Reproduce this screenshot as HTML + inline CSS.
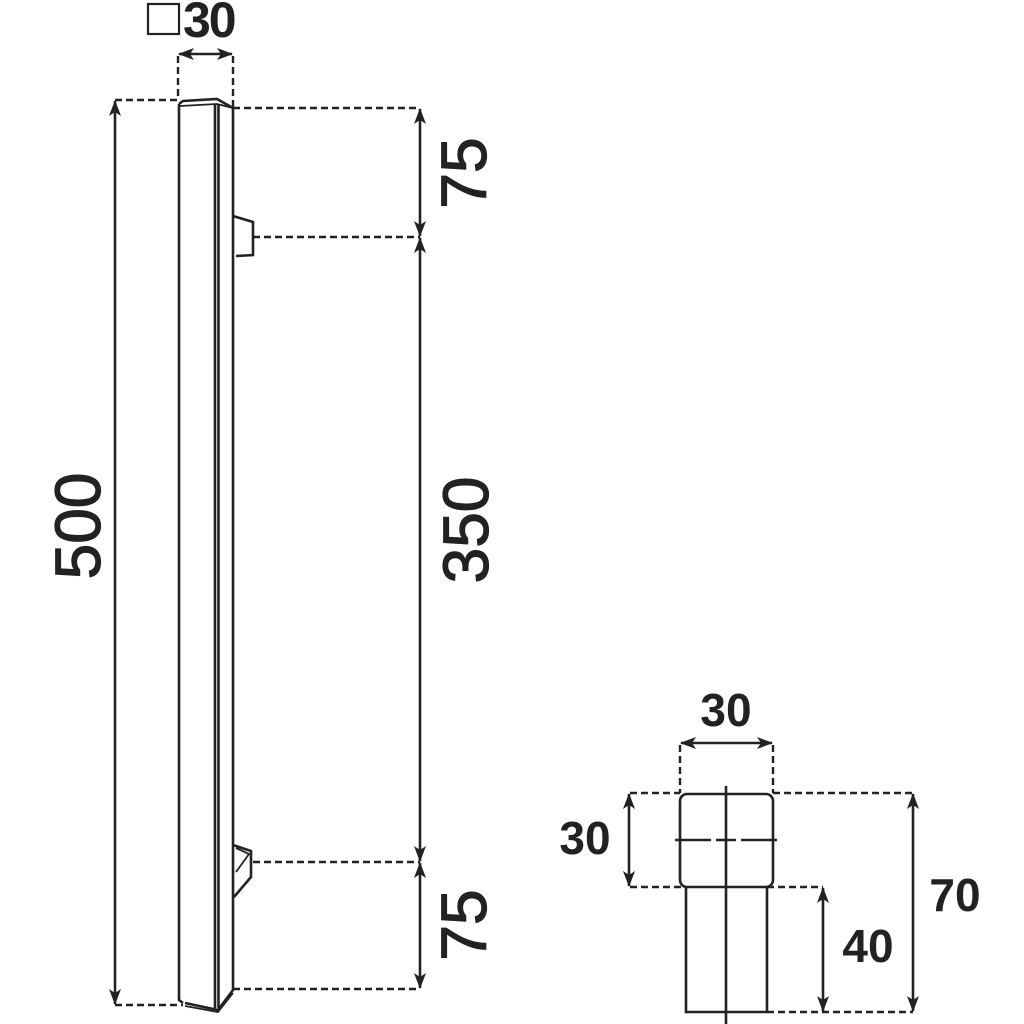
<!DOCTYPE html>
<html><head><meta charset="utf-8"><style>
html,body{margin:0;padding:0;background:#fff;}
svg{display:block}
text{font-family:"Liberation Sans",sans-serif;fill:#222}
</style></head><body>
<svg width="1024" height="1024" viewBox="0 0 1024 1024" xmlns="http://www.w3.org/2000/svg">
<defs>
<marker id="a" viewBox="0 0 16 12" refX="15" refY="6" markerWidth="16" markerHeight="12" markerUnits="userSpaceOnUse" orient="auto-start-reverse">
<path d="M0,0 L16,6 L0,12 L4,6 Z" fill="#222"/>
</marker>
</defs>
<rect x="148" y="4" width="31" height="30" stroke="#222" stroke-width="2.2" fill="none"/>
<text x="183" y="37" font-size="50" font-weight="bold" letter-spacing="-2">30</text>

<g stroke="#222" stroke-width="2.4" fill="none" stroke-dasharray="7,4">
<line x1="178" y1="56" x2="178" y2="100"/>
<line x1="233" y1="56" x2="233" y2="108"/>
<line x1="115" y1="100" x2="178" y2="100"/>
<line x1="115" y1="1005" x2="183" y2="1005"/>
<line x1="233" y1="108" x2="420" y2="108"/>
<line x1="253" y1="237" x2="420" y2="237"/>
<line x1="253" y1="862" x2="420" y2="862"/>
<line x1="233" y1="989" x2="420" y2="989"/>
<line x1="680" y1="745" x2="680" y2="793"/>
<line x1="773" y1="745" x2="773" y2="793"/>
<line x1="630" y1="793" x2="680" y2="793"/>
<line x1="630" y1="887" x2="686" y2="887"/>
<line x1="773" y1="793" x2="913" y2="793"/>
<line x1="767" y1="887" x2="823" y2="887"/>
<line x1="767" y1="1012" x2="913" y2="1012"/>
</g>

<g stroke="#222" stroke-width="2.6" fill="none">
<line x1="179" y1="54" x2="232" y2="54" marker-start="url(#a)" marker-end="url(#a)"/>
<line x1="115" y1="101" x2="115" y2="1004" marker-start="url(#a)" marker-end="url(#a)"/>
<line x1="420" y1="109" x2="420" y2="236" marker-start="url(#a)" marker-end="url(#a)"/>
<line x1="420" y1="238" x2="420" y2="861" marker-start="url(#a)" marker-end="url(#a)"/>
<line x1="420" y1="863" x2="420" y2="988" marker-start="url(#a)" marker-end="url(#a)"/>
<path d="M179,104 L179,1000 L183,1003"/>
<path d="M179,104 L183,101 L217,99 L233,108 L233,990 L218,1010 L185,1003"/>
<path d="M180,106 L217,104 L233,108" stroke-width="1.8"/>
<line x1="215" y1="104" x2="215" y2="1008"/>
<line x1="218.5" y1="104" x2="218.5" y2="1008"/>
<path d="M185,1006 L218,1012 L233,993" stroke-width="1.8"/>
<path d="M233,216 L253,222 L253,255 L236,256"/>
<path d="M233,845 L251,851 L251,877 L234,897"/>
<path d="M236,848 L249,854 L236,872" stroke-width="1.8"/>
<rect x="680" y="794" width="93" height="93" rx="7" ry="7"/>
<path d="M686,887 L686,1012 L767,1012 L767,887"/>
<line x1="726" y1="786" x2="726" y2="1024"/>
<path d="M675,840 H711 M716,840 H736 M741,840 H777"/>
<line x1="681" y1="743" x2="772" y2="743" marker-start="url(#a)" marker-end="url(#a)"/>
<line x1="629" y1="794" x2="629" y2="886" marker-start="url(#a)" marker-end="url(#a)"/>
<line x1="823" y1="888" x2="823" y2="1011" marker-start="url(#a)" marker-end="url(#a)"/>
<line x1="913" y1="794" x2="913" y2="1011" marker-start="url(#a)" marker-end="url(#a)"/>
</g>

<g stroke="#222" stroke-width="1.2">
<text font-size="64" text-anchor="middle" transform="translate(100,526) rotate(-90)">500</text>
<text font-size="64" text-anchor="middle" transform="translate(486,173) rotate(-90)">75</text>
<text font-size="64" text-anchor="middle" transform="translate(488,530) rotate(-90)">350</text>
<text font-size="64" text-anchor="middle" transform="translate(486,925) rotate(-90)">75</text>
</g>

<g font-weight="bold" font-size="46" text-anchor="middle">
<text x="726" y="726">30</text>
<text x="585" y="854">30</text>
<text x="868" y="962">40</text>
<text x="955" y="911">70</text>
</g>
</svg>
</body></html>
